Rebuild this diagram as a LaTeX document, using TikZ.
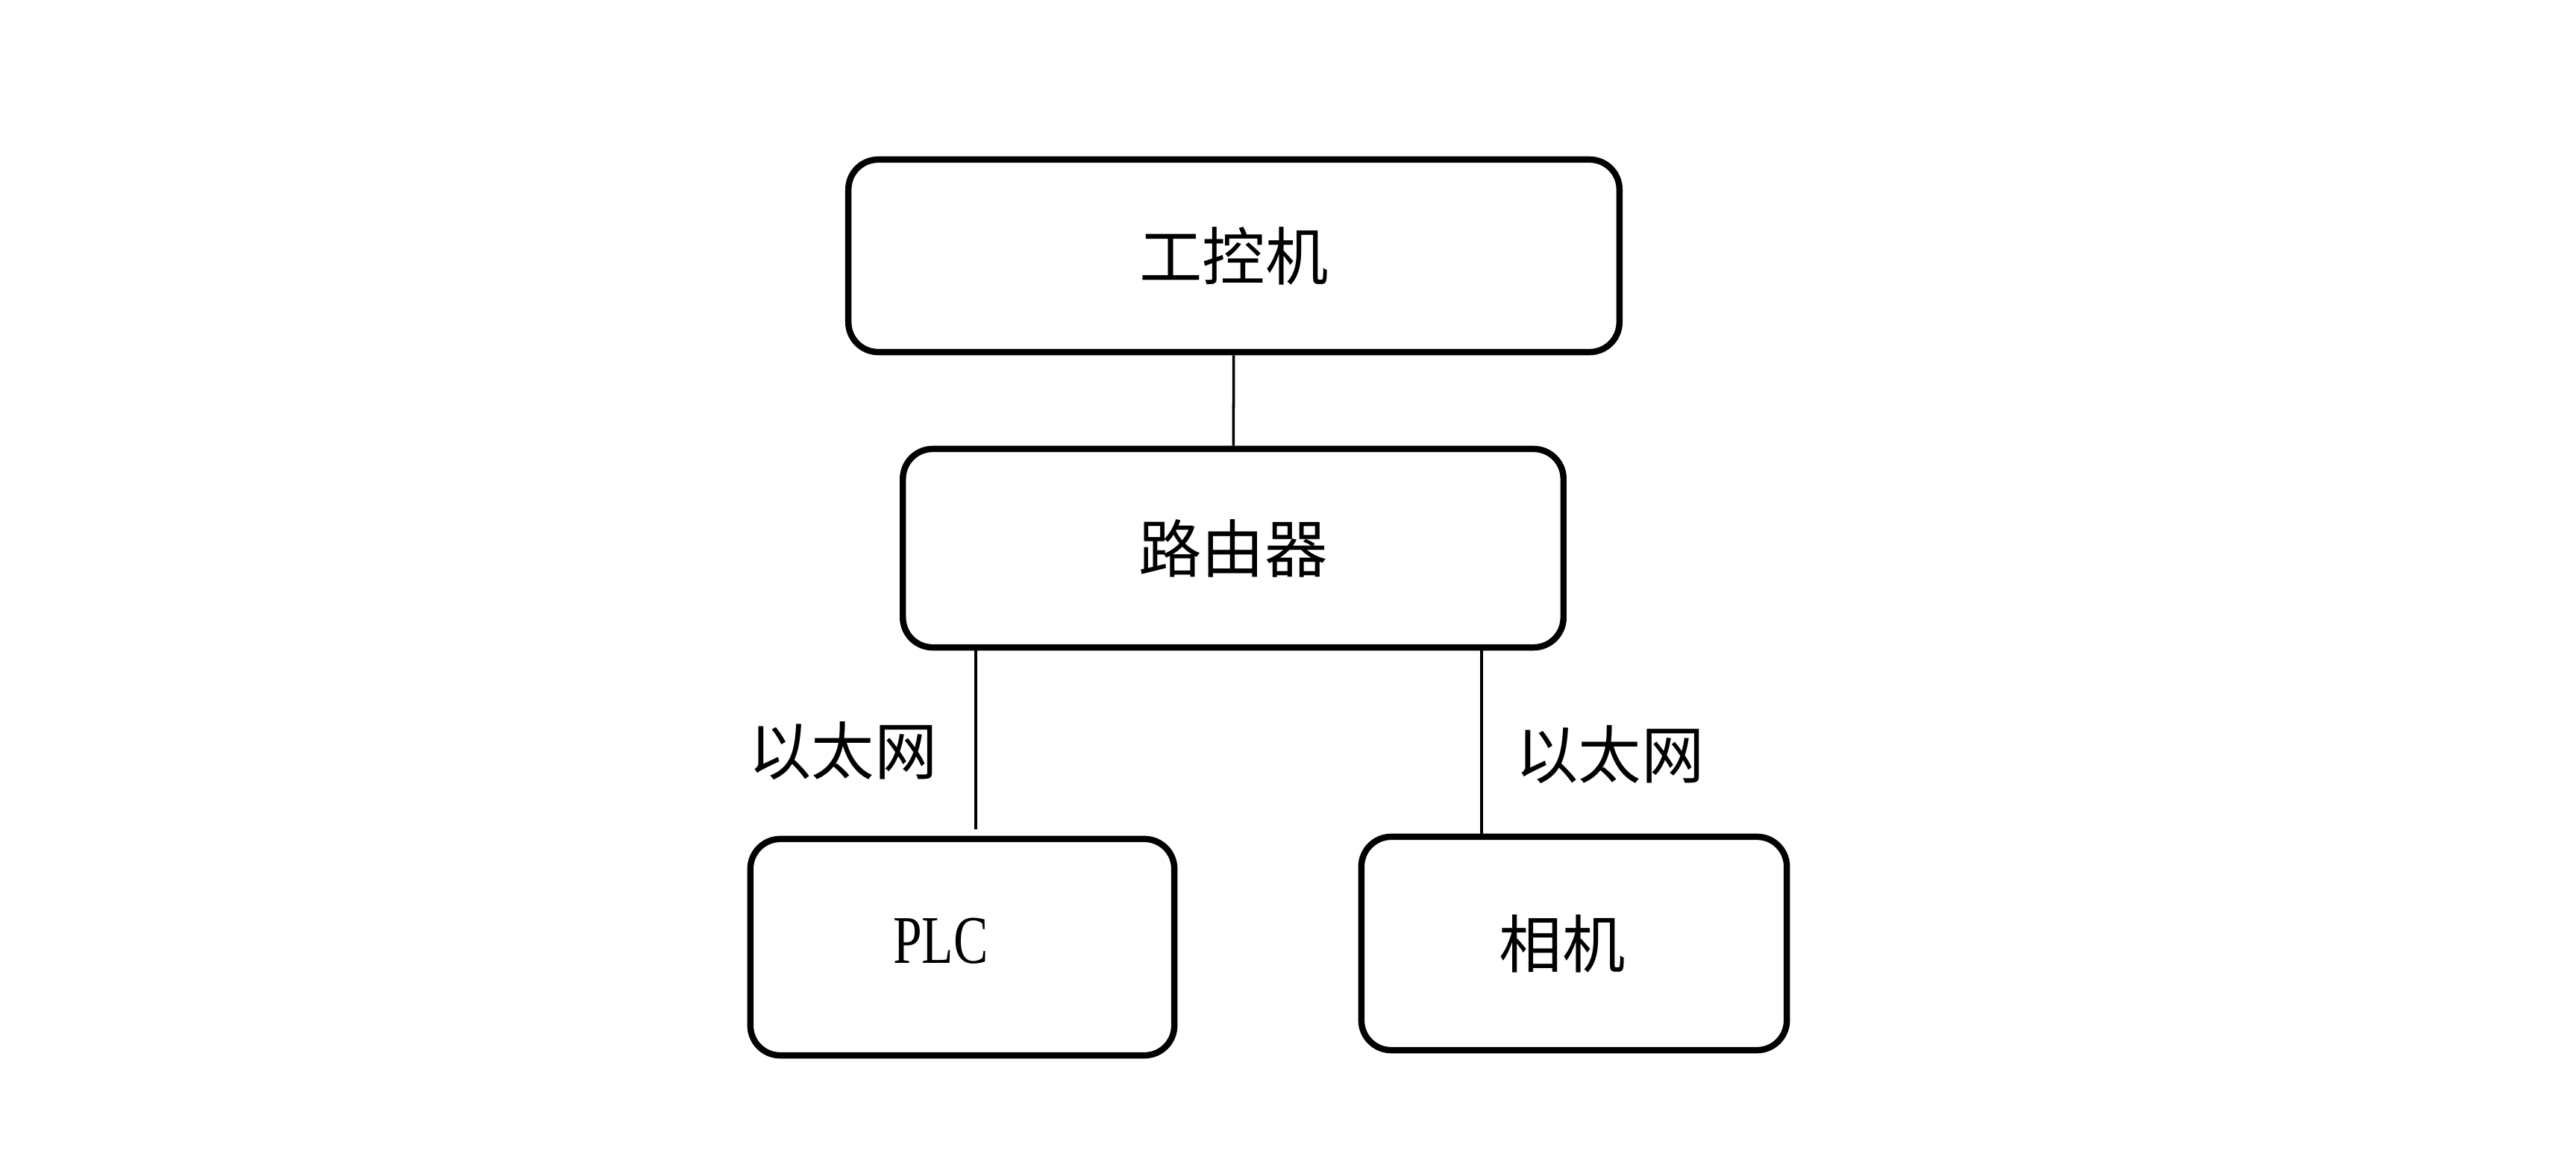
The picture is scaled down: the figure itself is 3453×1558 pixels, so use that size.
\documentclass[tikz,border=0pt]{standalone}
\usepackage{fontspec}
\newfontfamily\cjk{Noto Sans CJK SC}
\newfontfamily\plcfont[FakeStretch=0.76]{Liberation Serif}
\usetikzlibrary{positioning}

\tikzstyle{device} = [rectangle, rounded corners=0.4cm, draw=black, line width=2.4pt, fill=white, text centered, font=\cjk\fontsize{24}{24}\selectfont]
\tikzstyle{link} = [draw=black, line width=1pt]
\tikzstyle{netlabel} = [font=\cjk\fontsize{24}{24}\selectfont, inner sep=0pt]

\begin{document}
\begin{tikzpicture}[x=0.01cm, y=-0.01cm]
\useasboundingbox (0,0) rectangle (3453,1558);
\node (ipc) [device, minimum width=10.33cm, minimum height=2.58cm] at (1654,343) {工控机};
\node (router) [device, minimum width=8.85cm, minimum height=2.66cm] at (1653,735) {路由器};
\node (plc) [device, minimum width=5.68cm, minimum height=2.90cm,
  label={[font=\plcfont\fontsize{26}{26}\selectfont]center:\hspace*{-0.58cm}\raisebox{0.17cm}{PLC}}] at (1290,1270) {};
\node (camera) [device, minimum width=5.70cm, minimum height=2.86cm,
  label={[font=\cjk\fontsize{24}{24}\selectfont]center:\hspace*{-0.32cm}\raisebox{0.05cm}{相机}}] at (2110,1265) {};

\coordinate (plc_in) at (1308,1112);
\coordinate (cam_in) at (1986,1122);

\draw [link] (ipc) -- (router);
\draw [link] (router.south -| plc_in) -- (plc_in);
\draw [link] (router.south -| cam_in) -- (cam_in);

\node (eth1) [netlabel] at (1130,1007) {以太网};
\node (eth2) [netlabel] at (2158,1012) {以太网};
\end{tikzpicture}
\end{document}
